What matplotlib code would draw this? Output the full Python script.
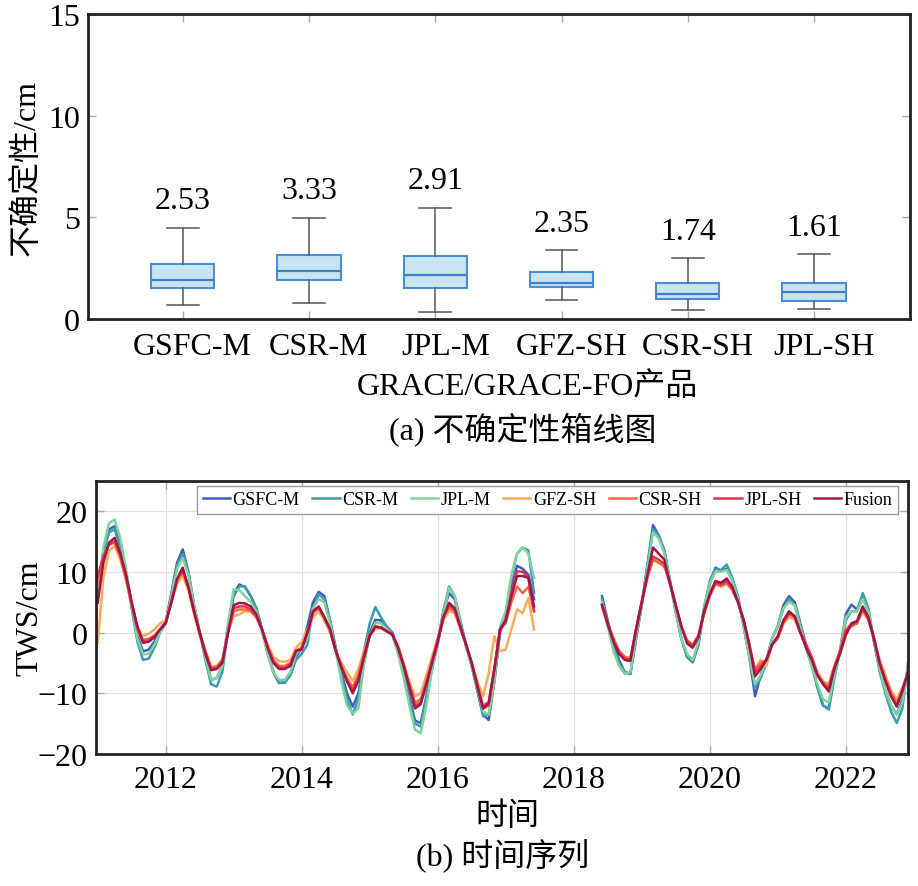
import numpy as np
import matplotlib.pyplot as plt
from matplotlib.transforms import ScaledTranslation

plt.rcParams['font.family'] = ['Liberation Serif', 'Noto Sans CJK SC']
plt.rcParams['axes.unicode_minus'] = True

# ---- (a) uncertainty box plot ----
products = ['GSFC-M', 'CSR-M', 'JPL-M', 'GFZ-SH', 'CSR-SH', 'JPL-SH']
box_q1 = [1.51, 1.93, 1.51, 1.57, 0.97, 0.88]
box_med = [1.90, 2.38, 2.16, 1.78, 1.22, 1.31]
box_q3 = [2.72, 3.14, 3.10, 2.29, 1.78, 1.78]
whis_lo = [0.68, 0.81, 0.37, 0.96, 0.44, 0.47]
whis_hi = [4.49, 4.99, 5.46, 3.39, 2.98, 3.18]
unc_text = ['2.53', '3.33', '2.91', '2.35', '1.74', '1.61']

# ---- (b) TWS time series (cm), monthly ----
# GRACE: 2011-01 .. 2017-06
gsfc_m_a = [6.0, 13.5, 17.0, 17.5, 14.5, 10.0, 4.5, -0.5, -3.1, -2.8, -1.5, 0.5,
            1.8, 6.5, 11.5, 13.7, 10.0, 4.5, 0.0, -4.0, -7.8, -7.5, -5.5, 1.0,
            6.5, 7.9, 7.5, 6.0, 4.0, 0.5, -3.5, -6.5, -8.3, -8.2, -7.0, -4.0,
            -2.5, 1.0, 5.0, 6.7, 6.0, 2.0, -2.5, -6.5, -10.0, -12.2, -10.0, -5.0,
            0.0, 2.1, 2.0, 1.0, 0.0, -3.0, -6.5, -10.5, -14.5, -14.9, -10.5, -5.5,
            -1.5, 3.5, 6.5, 5.5, 1.5, -2.0, -5.5, -9.5, -13.5, -14.4, -8.0, 0.0,
            2.5, 7.5, 11.0, 10.5, 9.5, 5.5]
csr_m_a = [5.5, 13.0, 16.5, 17.0, 14.0, 9.5, 4.0, -1.5, -4.5, -4.3, -2.5, 0.0,
           1.5, 6.0, 11.0, 12.9, 10.0, 4.5, 0.0, -4.5, -8.5, -8.9, -6.5, 0.5,
           6.0, 7.6, 7.6, 6.0, 4.0, 0.5, -3.5, -6.5, -8.3, -8.3, -7.0, -4.5,
           -3.5, -2.0, 4.0, 6.3, 5.5, 2.0, -2.5, -7.0, -11.0, -13.5, -11.0, -3.0,
           1.5, 4.2, 2.5, 1.0, 0.0, -3.0, -6.5, -11.0, -15.0, -15.5, -11.0, -6.0,
           -2.0, 3.5, 7.6, 6.0, 2.0, -2.0, -5.5, -9.5, -13.8, -13.5, -8.0, 0.5,
           3.0, 9.0, 13.0, 14.0, 13.5, 6.5]
jpl_m_a = [5.0, 14.0, 18.0, 18.6, 15.5, 10.5, 4.5, -1.0, -3.6, -3.5, -2.0, 0.0,
           1.5, 6.0, 10.5, 12.3, 9.5, 4.5, 0.0, -4.0, -7.8, -7.5, -5.5, 1.5,
           7.1, 7.0, 6.0, 5.0, 3.5, 0.0, -3.5, -6.5, -7.8, -7.8, -6.5, -3.5,
           -2.5, -1.0, 4.0, 5.5, 5.0, 1.5, -3.0, -8.0, -12.0, -13.3, -12.5, -5.0,
           -0.5, 1.6, 1.5, 0.5, -0.5, -3.5, -7.5, -12.0, -16.0, -16.6, -12.0, -6.0,
           -2.0, 3.0, 7.4, 6.0, 1.5, -2.5, -5.5, -9.0, -13.0, -13.5, -8.0, 1.0,
           3.5, 9.5, 13.0, 14.0, 13.0, 9.0]
gfz_sh_a = [-1.7, 9.0, 13.5, 14.2, 12.0, 8.5, 4.5, 1.0, -0.6, -0.2, 0.5, 1.5,
            2.0, 5.0, 8.0, 9.3, 7.0, 3.0, -0.5, -3.0, -5.6, -5.5, -4.5, 0.0,
            2.7, 3.0, 3.5, 3.5, 2.5, 0.5, -2.0, -4.0, -4.7, -4.8, -4.5, -2.5,
            -1.5, 0.5, 2.5, 3.5, 2.0, 0.0, -3.0, -5.0, -6.5, -8.0, -6.0, -3.0,
            -0.5, 0.5, 0.8, 0.5, -0.5, -2.0, -5.0, -8.0, -10.5, -10.0, -7.0, -4.0,
            -1.0, 2.0, 3.5, 3.2, 0.5, -2.0, -5.0, -8.0, -10.5, -6.7, -0.6, -3.1,
            -2.8, 0.5, 3.8, 3.2, 5.7, 0.5]
csr_sh_a = [8.0, 12.5, 14.5, 14.8, 12.5, 9.0, 4.5, 0.5, -1.2, -1.0, -0.5, 0.5,
            1.5, 5.0, 8.5, 10.0, 7.5, 3.5, 0.0, -3.0, -5.8, -5.6, -4.5, 0.0,
            3.5, 3.8, 3.8, 3.5, 2.5, 0.5, -2.5, -4.5, -5.5, -5.5, -5.0, -3.0,
            -2.5, 0.0, 3.2, 4.0, 2.5, 0.5, -3.0, -5.5, -7.5, -9.0, -7.0, -3.5,
            -0.5, 1.0, 0.8, 0.3, -0.3, -2.5, -5.5, -8.5, -11.5, -11.0, -8.0, -4.5,
            -1.0, 2.5, 4.0, 3.5, 0.8, -2.0, -5.0, -8.5, -12.0, -11.5, -6.0, 0.5,
            1.5, 5.0, 7.6, 6.5, 7.5, 3.5]
jpl_sh_a = [9.3, 12.5, 14.5, 15.0, 12.8, 9.3, 4.8, 0.8, -1.5, -1.3, -0.6, 0.5,
            1.6, 5.0, 8.8, 10.3, 7.5, 3.5, 0.0, -3.3, -6.0, -5.8, -4.8, 0.0,
            4.0, 4.3, 4.3, 3.8, 2.8, 0.5, -2.5, -4.8, -5.8, -5.8, -5.2, -3.0,
            -2.7, 0.0, 3.5, 4.2, 2.5, 0.5, -3.0, -5.5, -8.0, -9.5, -7.5, -4.0,
            -0.5, 1.0, 0.8, 0.2, -0.3, -2.5, -5.5, -9.0, -12.0, -11.5, -8.5, -5.0,
            -1.5, 2.5, 4.5, 3.8, 0.8, -2.0, -5.0, -8.8, -12.5, -12.0, -6.0, 0.5,
            2.0, 6.5, 10.1, 10.0, 9.0, 3.5]
fusion_a = [4.9, 11.5, 14.8, 15.6, 13.0, 9.5, 5.0, 1.0, -1.7, -1.5, -0.8, 0.5,
            1.6, 5.0, 8.8, 10.7, 7.5, 3.5, 0.0, -3.5, -6.2, -6.0, -5.0, 0.0,
            4.5, 4.9, 4.8, 4.3, 3.0, 0.5, -2.5, -5.0, -6.0, -6.0, -5.5, -3.0,
            -2.8, 0.0, 3.5, 4.3, 2.5, 0.5, -3.0, -5.8, -8.0, -10.0, -8.0, -4.0,
            -0.5, 1.0, 0.8, 0.2, -0.3, -2.5, -5.5, -9.0, -12.5, -11.8, -8.5, -5.0,
            -1.5, 2.5, 4.9, 4.0, 1.0, -2.0, -5.0, -8.8, -12.5, -11.5, -6.0, 0.5,
            2.0, 6.0, 9.3, 9.3, 9.0, 4.3]

# GRACE-FO: 2018-06 .. 2022-12
gsfc_m_b = [6.0, 2.0, -2.0, -4.5, -6.5, -6.8, -1.0,
            4.5, 11.0, 17.7, 16.0, 13.5, 8.5, 3.5, -1.0, -4.0, -4.9, -2.0, 4.0,
            8.0, 10.7, 10.2, 10.5, 8.5, 5.5, 1.0, -4.0, -10.5, -7.0, -4.5, -1.0,
            1.0, 4.5, 6.0, 5.0, 1.5, -2.0, -5.0, -9.0, -12.0, -12.5, -7.0, -3.0,
            3.0, 4.6, 3.8, 6.0, 3.5, -1.5, -6.0, -9.5, -12.0, -13.5, -11.0, -6.0]
csr_m_b = [5.5, 1.5, -2.5, -5.0, -6.5, -6.8, -1.0,
           4.5, 11.0, 17.0, 16.0, 13.5, 8.5, 3.5, -1.0, -4.0, -4.8, -2.0, 4.0,
           8.5, 10.5, 10.3, 11.2, 9.0, 6.0, 1.0, -4.0, -9.0, -7.5, -5.0, -1.0,
           1.0, 4.0, 5.5, 4.5, 1.0, -2.5, -5.5, -9.0, -12.0, -12.7, -7.5, -3.0,
           2.0, 3.5, 3.5, 6.5, 4.0, -1.5, -6.5, -10.0, -13.0, -14.9, -12.5, -5.0]
jpl_m_b = [5.0, 1.0, -3.0, -5.5, -6.8, -6.5, -0.5,
           4.5, 10.5, 16.5, 15.5, 13.0, 8.5, 3.5, -1.0, -3.5, -4.5, -1.5, 4.0,
           8.0, 10.0, 10.0, 10.3, 8.5, 5.5, 1.0, -4.0, -8.5, -7.0, -4.5, -1.0,
           1.0, 4.0, 5.0, 4.5, 1.0, -2.5, -5.5, -8.5, -11.0, -11.5, -7.0, -3.0,
           2.5, 3.5, 3.5, 5.5, 3.5, -1.5, -6.0, -9.5, -12.0, -13.5, -11.5, -6.0]
gfz_sh_b = [4.0, 1.5, -0.8, -3.0, -4.0, -4.2, 0.5,
            5.0, 9.0, 12.0, 11.5, 10.8, 8.0, 4.5, 1.0, -1.2, -2.0, -0.5, 3.0,
            6.0, 8.0, 7.5, 8.0, 7.0, 5.0, 2.0, -2.5, -6.0, -4.5, -5.5, -2.0,
            -1.0, 1.5, 2.5, 2.2, 0.0, -2.0, -4.0, -6.5, -8.0, -8.5, -5.5, -3.0,
            0.5, 1.5, 1.5, 3.5, 2.0, -1.0, -4.5, -7.0, -9.5, -11.0, -9.0, -6.5]
csr_sh_b = [4.5, 1.5, -1.0, -3.0, -4.0, -4.3, 0.5,
            5.0, 9.0, 12.0, 11.5, 11.0, 8.0, 4.5, 1.0, -1.3, -2.0, -0.5, 3.0,
            6.0, 8.0, 7.8, 8.2, 7.0, 5.0, 2.0, -2.0, -6.2, -5.0, -4.5, -2.0,
            -1.0, 1.5, 3.0, 2.5, 0.0, -2.0, -4.0, -6.8, -8.2, -8.8, -5.5, -3.0,
            0.5, 1.0, 1.5, 3.8, 2.2, -1.0, -5.0, -7.5, -10.0, -11.5, -9.5, -6.5]
jpl_sh_b = [4.5, 1.3, -1.3, -3.3, -4.3, -4.5, 0.5,
            5.0, 9.5, 12.5, 12.0, 11.3, 8.2, 4.5, 1.0, -1.5, -2.2, -0.6, 3.2,
            6.2, 8.2, 7.8, 8.5, 7.2, 5.0, 2.0, -2.2, -6.5, -5.5, -4.5, -2.0,
            -0.8, 1.8, 3.2, 2.6, 0.0, -2.0, -4.2, -7.0, -8.5, -9.2, -5.8, -3.2,
            0.3, 1.2, 1.8, 4.0, 2.3, -1.2, -5.2, -7.8, -10.2, -12.0, -9.8, -6.5]
fusion_b = [4.6, 1.5, -1.5, -3.5, -4.5, -4.7, 0.5,
            4.9, 9.5, 14.0, 13.0, 12.0, 8.0, 4.5, 1.0, -1.8, -2.5, -0.8, 3.5,
            6.3, 8.5, 8.2, 8.9, 7.5, 5.0, 2.0, -2.0, -7.2, -6.0, -4.5, -2.0,
            -0.6, 2.0, 3.5, 2.7, 0.0, -2.5, -4.5, -7.0, -8.5, -9.7, -6.0, -3.5,
            -0.5, 1.5, 1.9, 4.3, 2.5, -1.0, -5.0, -8.0, -10.5, -12.2, -9.5, -6.5]

series_names = ['GSFC-M', 'CSR-M', 'JPL-M', 'GFZ-SH', 'CSR-SH', 'JPL-SH', 'Fusion']
series_a = [gsfc_m_a, csr_m_a, jpl_m_a, gfz_sh_a, csr_sh_a, jpl_sh_a, fusion_a]
series_b = [gsfc_m_b, csr_m_b, jpl_m_b, gfz_sh_b, csr_sh_b, jpl_sh_b, fusion_b]
colors = ['#3f5fbf', '#3a9bb2', '#80d39a', '#f9ac5b', '#f26b3f', '#e6334f', '#a1164a']

# decimal years of the monthly solutions
t_a = 2011 + np.arange(len(fusion_a)) / 12
t_b = 2018 + 5 / 12 + np.arange(len(fusion_b)) / 12

W, H = 918, 887
fig = plt.figure(figsize=(W / 100, H / 100), dpi=100)


def px(x, y):
    return x / W, 1 - y / H


FS = 23
frame_col = '#222222'

# ----- top panel -----
ax1 = fig.add_axes([0.0959, 0.6392, 0.8954, 0.3439])
pos = np.arange(1, len(products) + 1)
stats = [dict(label=p, med=m, q1=a, q3=b, whislo=lo, whishi=hi)
         for p, m, a, b, lo, hi in zip(products, box_med, box_q1, box_q3, whis_lo, whis_hi)]
ax1.bxp(stats, positions=pos, widths=0.5, capwidths=0.25, showfliers=False,
        patch_artist=True,
        boxprops=dict(facecolor='#c8e3f2', edgecolor='#4a8fd4', linewidth=1.5),
        medianprops=dict(color='#3d7fc8', linewidth=1.6),
        whiskerprops=dict(color='#555555', linewidth=1.1),
        capprops=dict(color='#555555', linewidth=1.1))
for p, hi, s in zip(pos, whis_hi, unc_text):
    ax1.annotate(s, (p, hi), xytext=(0, 9), textcoords='offset points',
                 ha='center', va='bottom', fontsize=FS)
ax1.set_xlim(0.25, 6.76)
ax1.set_ylim(0, 15)
ax1.set_yticks([0, 5, 10, 15])
ax1.tick_params(direction='in', top=True, right=True, length=6, width=1,
                color='#aaaaaa', labelsize=FS)
ax1.tick_params(axis='x', pad=9)
ax1.tick_params(axis='y', pad=6)
for lbl in ax1.get_xticklabels():
    lbl.set_transform(lbl.get_transform() + ScaledTranslation(0.1, 0, fig.dpi_scale_trans))
for sp in ax1.spines.values():
    sp.set_linewidth(2.0)
    sp.set_color(frame_col)

fig.text(*px(27, 168), '不确定性/cm', rotation=90, ha='center', va='center', fontsize=FS)
fig.text(*px(527, 387), 'GRACE/GRACE-FO产品', ha='center', va='center', fontsize=FS)
fig.text(*px(523, 430), '(a) 不确定性箱线图', ha='center', va='center', fontsize=FS)

# ----- bottom panel -----
ax2 = fig.add_axes([0.1042, 0.1488, 0.8852, 0.3081])
for name, ya, yb, c in zip(series_names, series_a, series_b, colors):
    ax2.plot(t_a, ya, color=c, lw=1.8, label=name)
    ax2.plot(t_b, yb, color=c, lw=1.8)
ax2.set_xlim(2010.97, 2022.92)
ax2.set_ylim(-20, 25)
ax2.set_xticks([2012, 2014, 2016, 2018, 2020, 2022])
ax2.set_yticks([-20, -10, 0, 10, 20])
ax2.grid(True, color='#e2e2e2', linewidth=0.9)
ax2.set_axisbelow(True)
ax2.tick_params(direction='in', top=True, right=True, length=6, width=1,
                color='#aaaaaa', labelsize=FS)
ax2.tick_params(axis='x', pad=8)
ax2.tick_params(axis='y', pad=6)
for sp in ax2.spines.values():
    sp.set_linewidth(2.0)
    sp.set_color(frame_col)
ax2.legend(loc='upper right', bbox_to_anchor=(0.9873, 0.9806), borderaxespad=0,
           ncol=7, fontsize=13, handlelength=1.5, handletextpad=0.15,
           columnspacing=0.7, borderpad=0.3, fancybox=False, framealpha=1,
           edgecolor='#999999')

fig.text(*px(30, 618), 'TWS/cm', rotation=90, ha='center', va='center', fontsize=FS)
fig.text(*px(507, 817), '时间', ha='center', va='center', fontsize=FS)
fig.text(*px(503, 856), '(b) 时间序列', ha='center', va='center', fontsize=FS)

fig.savefig('out.png', dpi=100)
